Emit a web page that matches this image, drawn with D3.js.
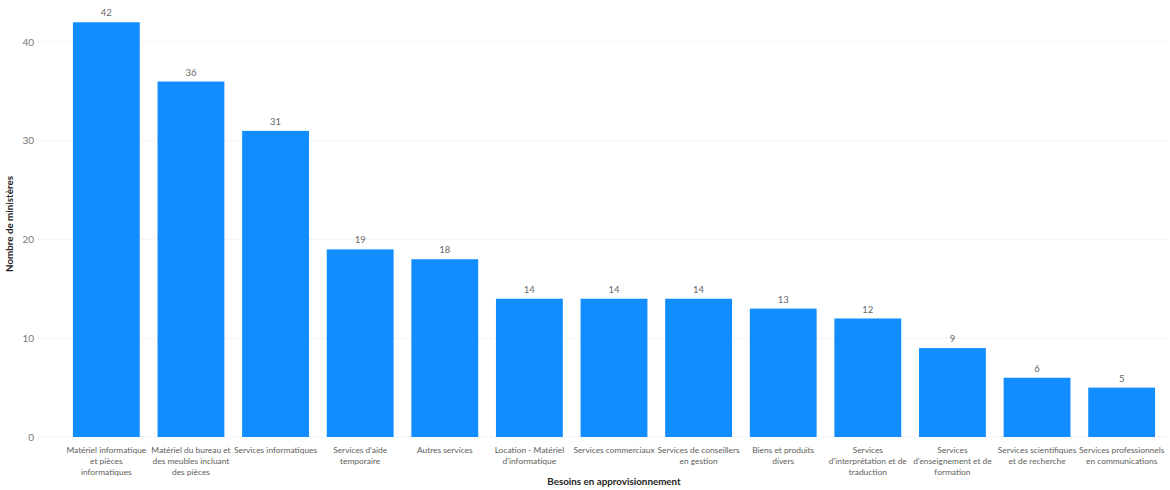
<!DOCTYPE html>
<html>
<head>
<meta charset="utf-8">
<script src="https://cdn.jsdelivr.net/npm/d3@7"></script>
<style>
  html, body { margin: 0; padding: 0; background: #fff; }
  svg { display: block; font-family: Lato, "Open Sans", sans-serif; }
</style>
</head>
<body>
<svg id="chart" width="1170" height="490"></svg>
<script>
const categories = [
  "Matériel informatique et pièces informatiques",
  "Matériel du bureau et des meubles incluant des pièces",
  "Services informatiques",
  "Services d'aide temporaire",
  "Autres services",
  "Location - Matériel d'informatique",
  "Services commerciaux",
  "Services de conseillers en gestion",
  "Biens et produits divers",
  "Services d'interprétation et de traduction",
  "Services d'enseignement et de formation",
  "Services scientifiques et de recherche",
  "Services professionnels en communications"
];
const tickLabels = [
  ["Matériel informatique", "et pièces", "informatiques"],
  ["Matériel du bureau et", "des meubles incluant", "des pièces"],
  ["Services informatiques"],
  ["Services d'aide", "temporaire"],
  ["Autres services"],
  ["Location - Matériel", "d'informatique"],
  ["Services commerciaux"],
  ["Services de conseillers", "en gestion"],
  ["Biens et produits", "divers"],
  ["Services", "d'interprétation et de", "traduction"],
  ["Services", "d'enseignement et de", "formation"],
  ["Services scientifiques", "et de recherche"],
  ["Services professionnels", "en communications"]
];
const values = [42, 36, 31, 19, 18, 14, 14, 14, 13, 12, 9, 6, 5];
const yTicks = [0, 10, 20, 30, 40];
const xTitle = "Besoins en approvisionnement";
const yTitle = "Nombre de ministères";

const svg = d3.select("#chart");
const x = d3.scaleBand().domain(categories).range([56, 1172]).paddingInner(0.21).paddingOuter(0.2);
const y = d3.scaleLinear().domain([0, 40]).range([437, 42]);

// gridlines
svg.append("g").selectAll("line").data(yTicks).join("line")
  .attr("x1", 38).attr("x2", 1170)
  .attr("y1", d => y(d)).attr("y2", d => y(d))
  .attr("stroke", "#d9d9d9").attr("stroke-width", 1).attr("stroke-dasharray", "1,3");

// y tick labels
svg.append("g").selectAll("text").data(yTicks).join("text")
  .attr("x", 34).attr("y", d => y(d)).attr("dy", "0.35em")
  .attr("text-anchor", "end").attr("font-size", 10).attr("fill", "#777")
  .text(d => d);

// bars
svg.append("g").selectAll("rect").data(values).join("rect")
  .attr("x", (d, i) => x(categories[i]))
  .attr("width", x.bandwidth())
  .attr("y", d => y(d))
  .attr("height", d => y(0) - y(d))
  .attr("fill", "#118DFF");

// value labels
svg.append("g").selectAll("text").data(values).join("text")
  .attr("x", (d, i) => x(categories[i]) + x.bandwidth() / 2)
  .attr("y", d => y(d) - 6)
  .attr("text-anchor", "middle").attr("font-size", 9.5).attr("fill", "#666")
  .text(d => d);

// category labels
const tg = svg.append("g");
tickLabels.forEach((lines, i) => {
  const cx = x(categories[i]) + x.bandwidth() / 2;
  const t = tg.append("text")
    .attr("x", cx)
    .attr("y", 453)
    .attr("text-anchor", "middle").attr("font-size", 8.4).attr("fill", "#605e5c");
  lines.forEach((l, j) => {
    t.append("tspan").attr("x", cx)
      .attr("dy", j === 0 ? 0 : 11.2).text(l);
  });
});

// axis titles
svg.append("text").attr("x", 614).attr("y", 485).attr("text-anchor", "middle")
  .attr("font-size", 9.8).attr("font-weight", 700).attr("fill", "#252423").text(xTitle);
svg.append("text").attr("transform", "translate(13,224) rotate(-90)").attr("text-anchor", "middle")
  .attr("font-size", 9.8).attr("font-weight", 700).attr("fill", "#252423").text(yTitle);
</script>
</body>
</html>
